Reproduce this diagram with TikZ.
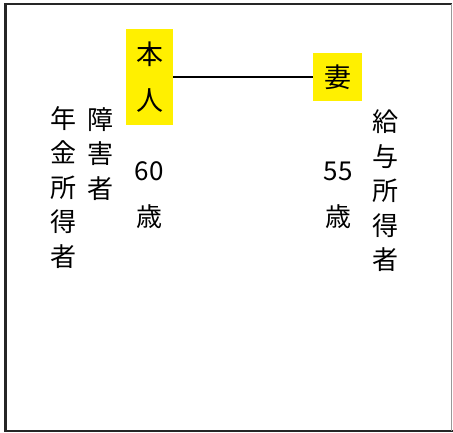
\documentclass[tikz,border=0pt]{standalone}
\usepackage{fontspec}
\setmainfont{Noto Sans CJK JP}
\usepackage{tikz}
\usetikzlibrary{positioning}
\definecolor{marker}{RGB}{255,240,0}
\tikzstyle{person}=[rectangle,fill=marker,inner sep=0pt,align=center,
        font=\fontsize{27}{46}\selectfont]
\tikzstyle{tate}=[inner sep=0pt,align=center,
        font=\fontsize{26}{34.5}\selectfont]
\tikzstyle{age}=[inner sep=0pt,align=center,
        font=\fontsize{26}{46}\selectfont]
\tikzstyle{tie}=[line width=1.2pt]

\begin{document}
\begin{tikzpicture}[x=1pt,y=1pt]
\useasboundingbox (0,0) rectangle (453,-433);
\draw[line width=2pt,black!85] (451.5,-4.5) -- (5.5,-4.5) -- (5.5,-430.5) -- (453,-430.5);
\draw[line width=3pt,black!85] (5.5,-3.5) -- (5.5,-431.5);
\draw[line width=0.6pt,black!40] (451.5,-4.5) -- (451.5,-430.5);
\node[person,minimum width=47pt,minimum height=96pt] (honnin) at (149.5,-77) {本\\人};
\node[person,minimum width=49pt,minimum height=48pt] (tsuma) at (337.5,-77) {妻};
\node[tate] (nenkin) at (63,-187.5) {年\\金\\所\\得\\者};
\node[tate] (shogai) at (100,-154) {障\\害\\者};
\node[age] (age1) at (149,-195) {60\\歳};
\node[age] (age2) at (338,-195) {55\\歳};
\node[tate] (kyuyo) at (385,-191) {給\\与\\所\\得\\者};
%Placement des liens
\draw[tie] (honnin) -- (tsuma);
\end{tikzpicture}
\end{document}
